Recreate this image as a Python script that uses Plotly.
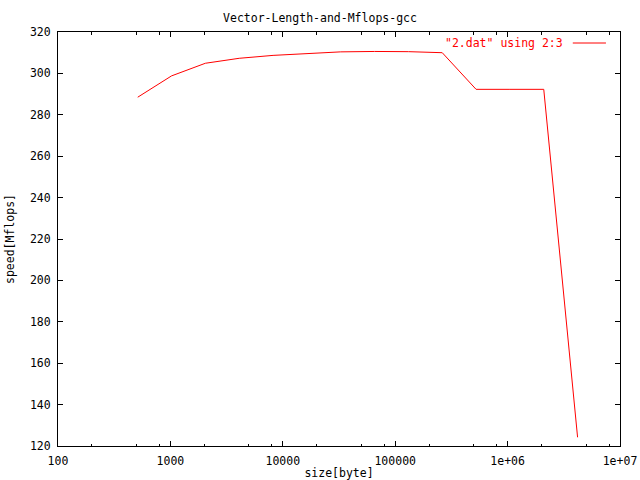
import plotly.graph_objects as go

size_bytes = [512, 1024, 2048, 4096, 8192, 16384, 32768, 65536, 131072, 262144,
              524288, 1048576, 2097152, 4194304]
mflops = [288.5, 298.8, 304.9, 307.3, 308.7, 309.5, 310.4, 310.6, 310.5, 310.0,
          292.3, 292.3, 292.3, 124.2]

x_tickvals = [100, 1000, 10000, 100000, 1000000, 10000000]
x_ticktext = ["100", "1000", "10000", "100000", "1e+06", "1e+07"]
x_minor = [m * 10 ** k for k in range(2, 7) for m in (2, 5, 8)]
y_tickvals = list(range(120, 321, 20))

FONT = "DejaVu Sans Mono"
fs = 11.5
W, H = 640, 480

fig = go.Figure()
fig.add_trace(go.Scatter(x=size_bytes, y=mflops, mode="lines",
                         line=dict(color="#ff0000", width=1),
                         name='"2.dat" using 2:3', showlegend=False,
                         hoverinfo="skip"))

axis_common = dict(showline=True, linecolor="black", linewidth=1, mirror="ticks",
                   ticks="inside", tickcolor="black", ticklen=5, tickwidth=1,
                   showgrid=False, zeroline=False, automargin=False,
                   tickfont=dict(family=FONT, size=fs, color="black"))

fig.update_xaxes(type="log", range=[2, 7], tickmode="array",
                 tickvals=x_tickvals, ticktext=x_ticktext,
                 minor=dict(ticks="inside", tickvals=x_minor, ticklen=2.5,
                            tickcolor="black", showgrid=False),
                 ticklabelstandoff=4, ticklabeloverflow="allow",
                 title=dict(text="size[byte]", font=dict(family=FONT, size=fs, color="black"),
                            standoff=4),
                 **axis_common)
fig.update_yaxes(range=[120, 320], tickmode="array", tickvals=y_tickvals,
                 ticklabelstandoff=4,
                 title=dict(text="speed[Mflops]", font=dict(family=FONT, size=fs, color="black"),
                            standoff=12),
                 **axis_common)

# legend (gnuplot style: text then sample line on the right)
fig.add_annotation(xref="paper", yref="paper", x=0.902, y=0.9734,
                   text='"2.dat" using 2:3', showarrow=False,
                   xanchor="right", yanchor="middle",
                   font=dict(family=FONT, size=fs, color="#ff0000"))
fig.add_shape(type="line", xref="paper", yref="paper",
              x0=0.916, x1=0.975, y0=0.9734, y1=0.9734,
              line=dict(color="#ff0000", width=1))

fig.update_layout(
    width=W, height=H,
    margin=dict(l=58, r=20, t=32, b=34),
    paper_bgcolor="white", plot_bgcolor="white",
    title=dict(text="Vector-Length-and-Mflops-gcc", x=0.5, xanchor="center",
               y=1 - 18 / H, yanchor="middle", automargin=False,
               font=dict(family=FONT, size=fs, color="black")),
    showlegend=False,
)

fig.write_html("out.html",
               config={"displayModeBar": False},
               post_script="document.body.style.margin='0px';"
                           "document.documentElement.style.overflow='hidden';")
